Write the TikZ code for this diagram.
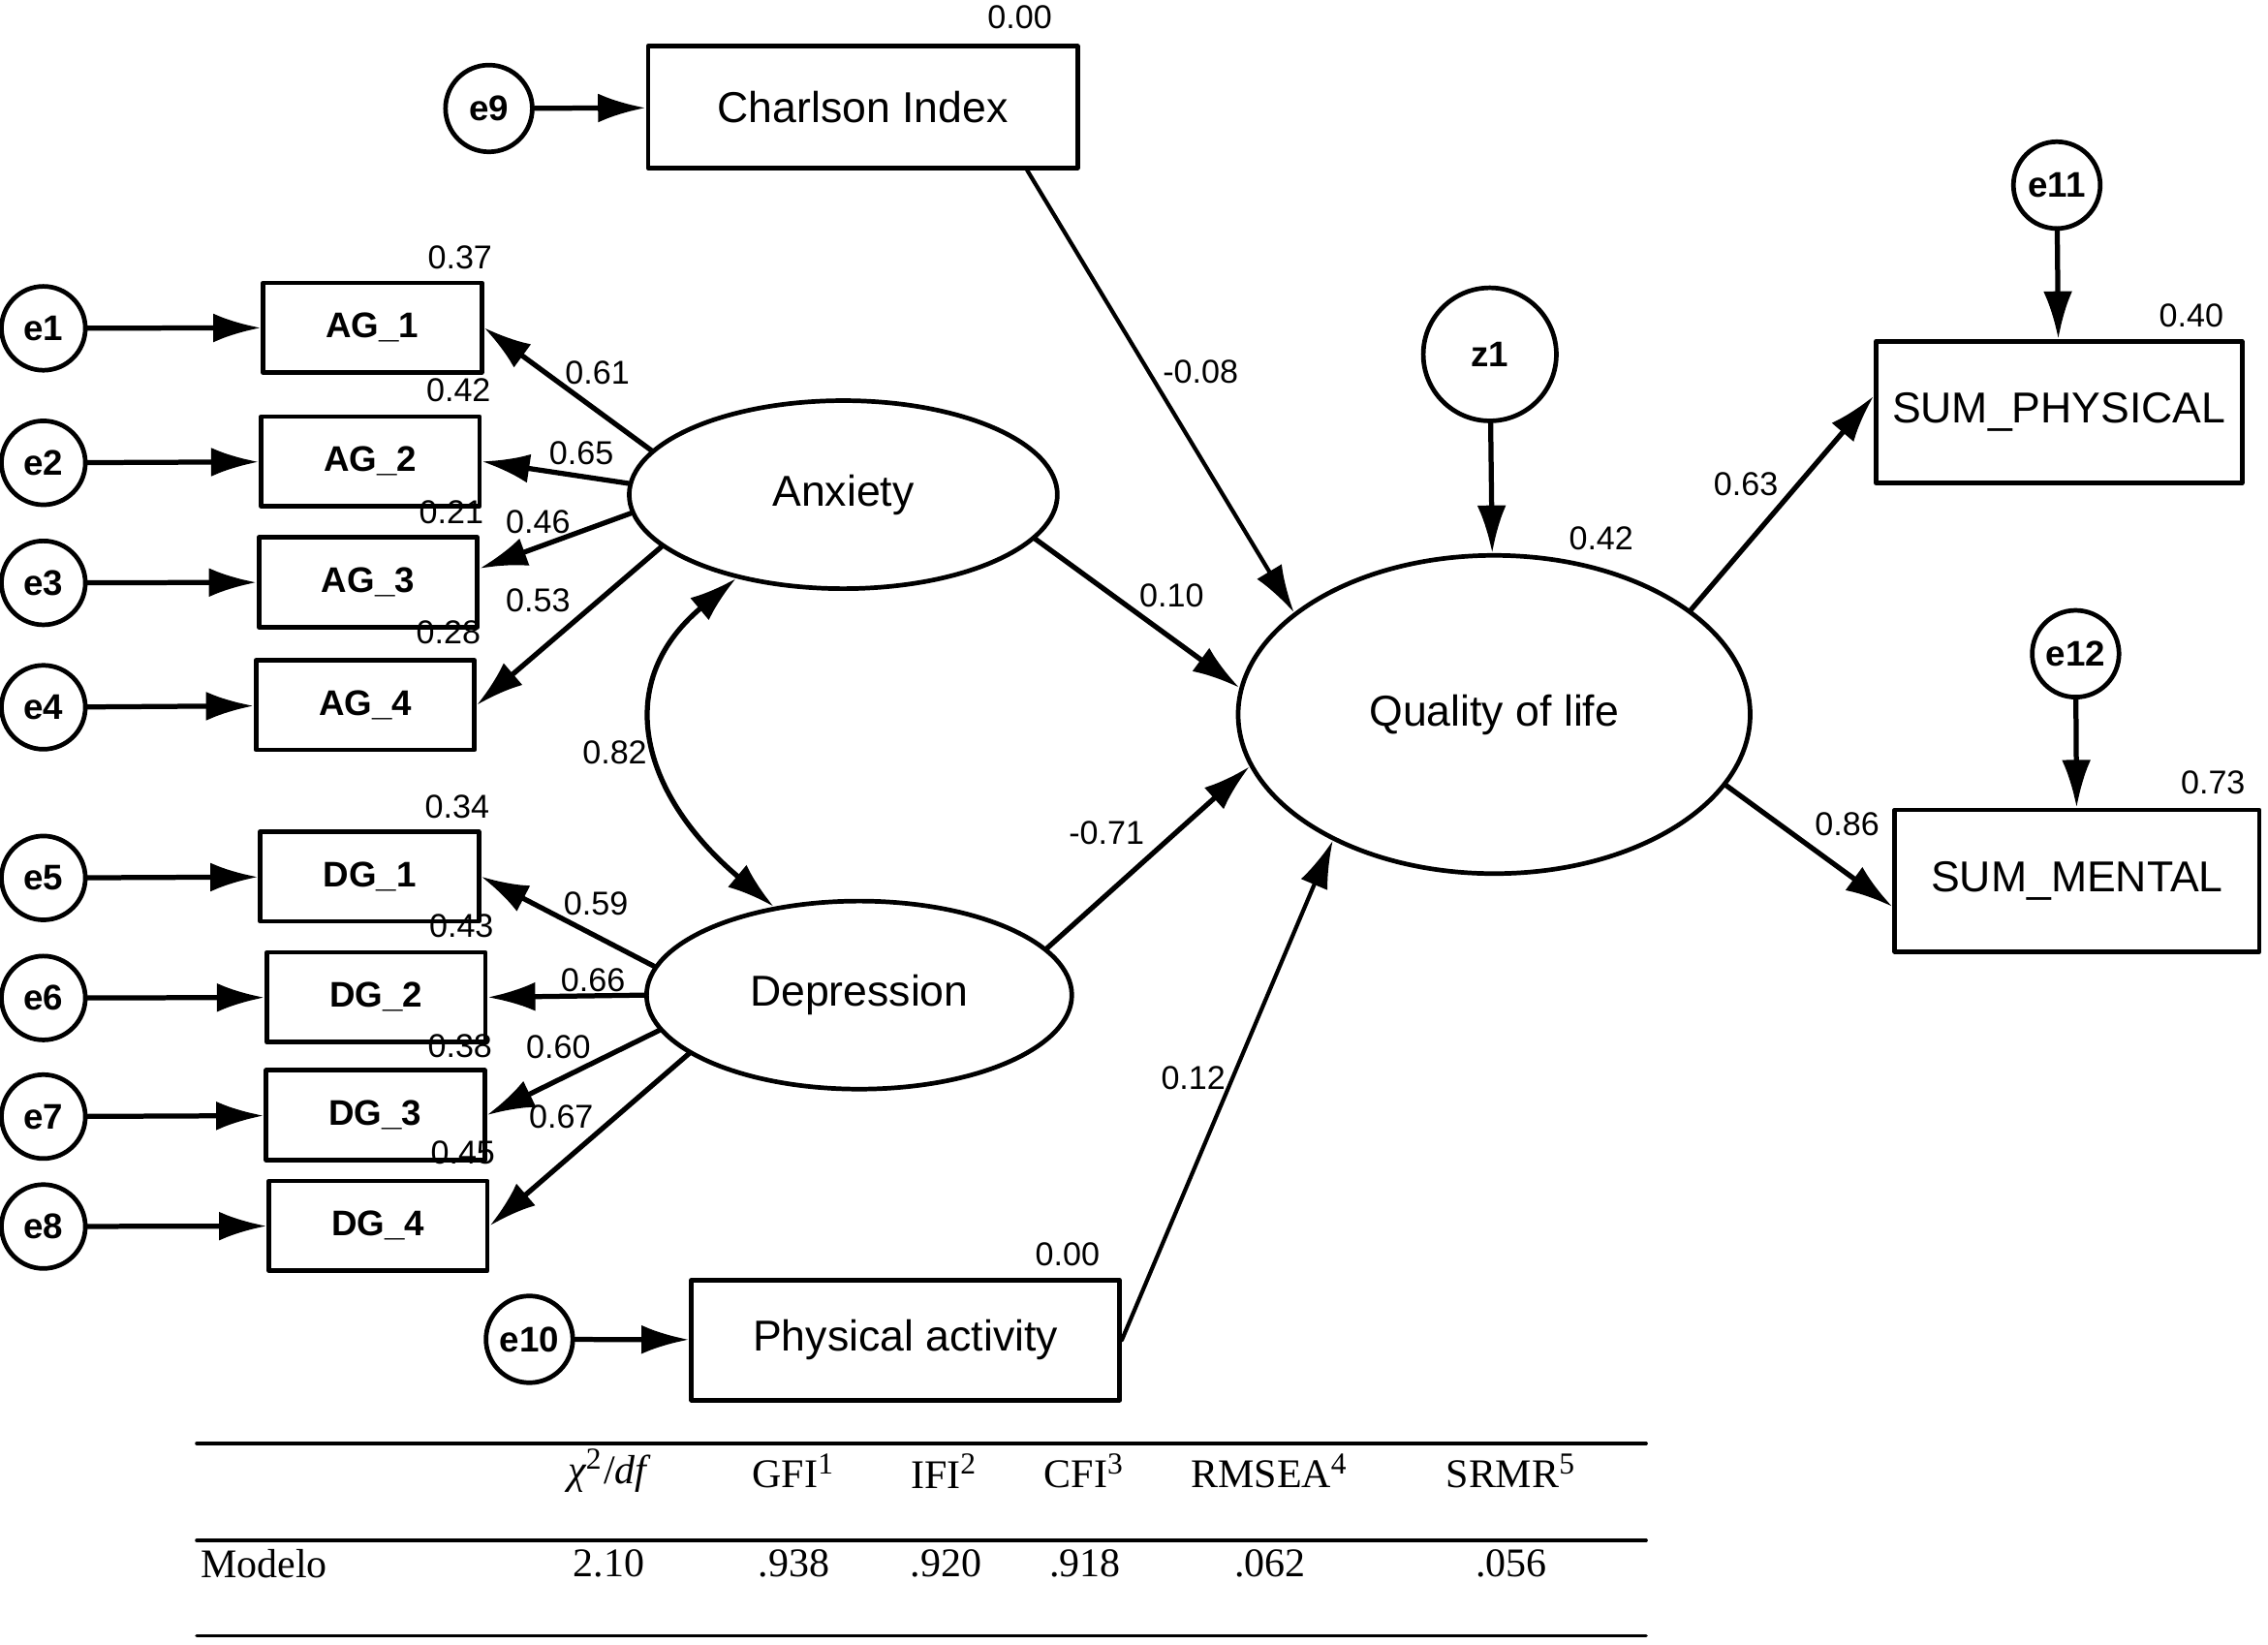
\documentclass[tikz,border=0pt]{standalone}
\usepackage{fontspec}
\setmainfont{Liberation Sans}
\newfontfamily\tabfont{Liberation Serif}
\usetikzlibrary{arrows.meta,shapes.geometric}
\begin{document}
\begin{tikzpicture}[x=0.1mm,y=-0.1mm,>={Latex[length=3.3mm,width=2mm]},line join=round,line cap=round,
	obs/.style={draw,rectangle,line width=0.9pt,inner sep=0pt,font=\fontsize{8.5}{10}\selectfont},
	ind/.style={obs,minimum width=15.1mm,minimum height=6.2mm,font=\bfseries\fontsize{7}{8}\selectfont},
	lat/.style={draw,ellipse,line width=0.9pt,inner sep=0pt,font=\fontsize{8.5}{10}\selectfont},
	err/.style={draw,circle,line width=0.9pt,minimum size=5.8mm,inner sep=0pt,font=\bfseries\fontsize{7}{8}\selectfont},
	num/.style={inner sep=0pt,font=\fontsize{6.5}{7}\selectfont},
	tab/.style={inner sep=0pt,font=\tabfont\fontsize{8}{9}\selectfont},
	thk/.style={->,line width=1pt},
	thn/.style={->,line width=0.8pt}]
	\useasboundingbox (0,0) rectangle (1568,1137);
	% error terms
	\node[err] (e1) at (30,227) {e1};
	\node[err] (e2) at (30,320) {e2};
	\node[err] (e3) at (30,403) {e3};
	\node[err] (e4) at (30,489) {e4};
	\node[err] (e5) at (30,607) {e5};
	\node[err] (e6) at (30,690) {e6};
	\node[err] (e7) at (30,772) {e7};
	\node[err] (e8) at (30,848) {e8};
	\node[err,minimum size=6mm] (e9) at (338,75) {e9};
	\node[err,minimum size=6mm] (e10) at (366,926) {e10};
	\node[err,minimum size=6mm] (e11) at (1422,128) {e11};
	\node[err,minimum size=6mm] (e12) at (1435,452) {e12};
	\node[err,minimum size=9.2mm] (z1) at (1030,245) {z1};
	% indicators
	\node[ind] (ag1) at (257.5,226.5) {AG\_1};
	\node[ind] (ag2) at (256,319) {AG\_2};
	\node[ind] (ag3) at (254.5,402.5) {AG\_3};
	\node[ind] (ag4) at (252.5,487.5) {AG\_4};
	\node[ind] (dg1) at (255.5,606) {DG\_1};
	\node[ind] (dg2) at (260,689.5) {DG\_2};
	\node[ind] (dg3) at (259.5,771) {DG\_3};
	\node[ind] (dg4) at (261.5,847.5) {DG\_4};
	\node[obs,minimum width=29.7mm,minimum height=8.4mm] (ch) at (596.5,74) {Charlson Index};
	\node[obs,minimum width=29.6mm,minimum height=8.3mm] (pa) at (626,926.5) {Physical activity};
	\node[obs,minimum width=25.3mm,minimum height=9.8mm] (sp) at (1423.5,285) {SUM\_PHYSICAL};
	\node[obs,minimum width=25.2mm,minimum height=9.8mm] (sm) at (1436,609) {SUM\_MENTAL};
	% latent variables
	\node[lat,minimum width=29.6mm,minimum height=13mm] (anx) at (583,342) {Anxiety};
	\node[lat,minimum width=29.4mm,minimum height=13mm] (dep) at (594,688) {Depression};
	\node[lat,minimum width=35.4mm,minimum height=22mm] (qol) at (1033,494) {Quality of life};
	% arrows
	\foreach \i in {1,...,4} \draw[thk] (e\i) -- (ag\i);
	\foreach \i/\j in {5/1,6/2,7/3,8/4} \draw[thk] (e\i) -- (dg\j);
	\draw[thk] (e9) -- (ch);
	\draw[thk] (e10) -- (pa);
	\draw[thk] (e11) -- (sp);
	\draw[thk] (e12) -- (sm);
	\draw[thk] (z1) -- (qol);
	\draw[thk] (anx.167) -- (ag1.east);
	\draw[thk] (anx.177) -- (ag2.east);
	\draw[thk] (anx.185) -- (ag3.7);
	\draw[thk] (anx.196) -- (ag4.east);
	\draw[thk] (dep.172) -- (dg1.east);
	\draw[thk] (dep.180) -- (dg2.east);
	\draw[thk] (dep.190) -- (dg3.east);
	\draw[thk] (dep.199) -- (dg4.east);
	\draw[thk,<->] (anx.218) to[out=220,in=140,looseness=1.3] (dep.134);
	\draw[thn] (ch.-21) -- (qol.153);
	\draw[thk] (anx.-13) -- (qol.174);
	\draw[thk] (dep.14) -- (qol.192);
	\draw[thn] (pa.east) -- (qol.218);
	\draw[thk] (qol.28) -- (sp.175);
	\draw[thk] (qol.-17) -- (sm.188);
	% estimates
	\foreach \x/\y/\t [count=\k] in {705/12/0.00,318/178/0.37,413/258/0.61,830/257/-0.08,1515/218/0.40,
		317/270/0.42,402/313/0.65,1207/335/0.63,312/354/0.21,372/361/0.46,1107/372/0.42,372/415/0.53,
		810/412/0.10,310/437/0.28,425/520/0.82,1530/541/0.73,316/558/0.34,1277/570/0.86,765/576/-0.71,
		412/625/0.59,319/640/0.43,410/678/0.66,318/723/0.38,386/724/0.60,825/745/0.12,388/772/0.67,
		320/797/0.45,738/867/0.00}
		\node[num] (w\k) at (\x,\y) {\t};
	% fit table
	\draw[line width=0.7pt] (136,998) -- (1138,998);
	\draw[line width=0.7pt] (136,1065) -- (1138,1065);
	\draw[line width=0.7pt] (136,1131) -- (1138,1131);
	\node[tab] (h1) at (420,1017) {{\itshape χ}\textsuperscript{2}/{\itshape df}};
	\node[tab] (h2) at (549,1017) {GFI\textsuperscript{1}};
	\node[tab] (h3) at (653,1017) {IFI\textsuperscript{2}};
	\node[tab] (h4) at (750,1017) {CFI\textsuperscript{3}};
	\node[tab] (h5) at (878,1017) {RMSEA\textsuperscript{4}};
	\node[tab] (h6) at (1045,1017) {SRMR\textsuperscript{5}};
	\node[tab,anchor=west] (r0) at (138,1081) {Modelo};
	\node[tab] (r1) at (421,1081) {2.10};
	\node[tab] (r2) at (549,1081) {.938};
	\node[tab] (r3) at (654,1081) {.920};
	\node[tab] (r4) at (750,1081) {.918};
	\node[tab] (r5) at (878,1081) {.062};
	\node[tab] (r6) at (1045,1081) {.056};
\end{tikzpicture}
\end{document}
